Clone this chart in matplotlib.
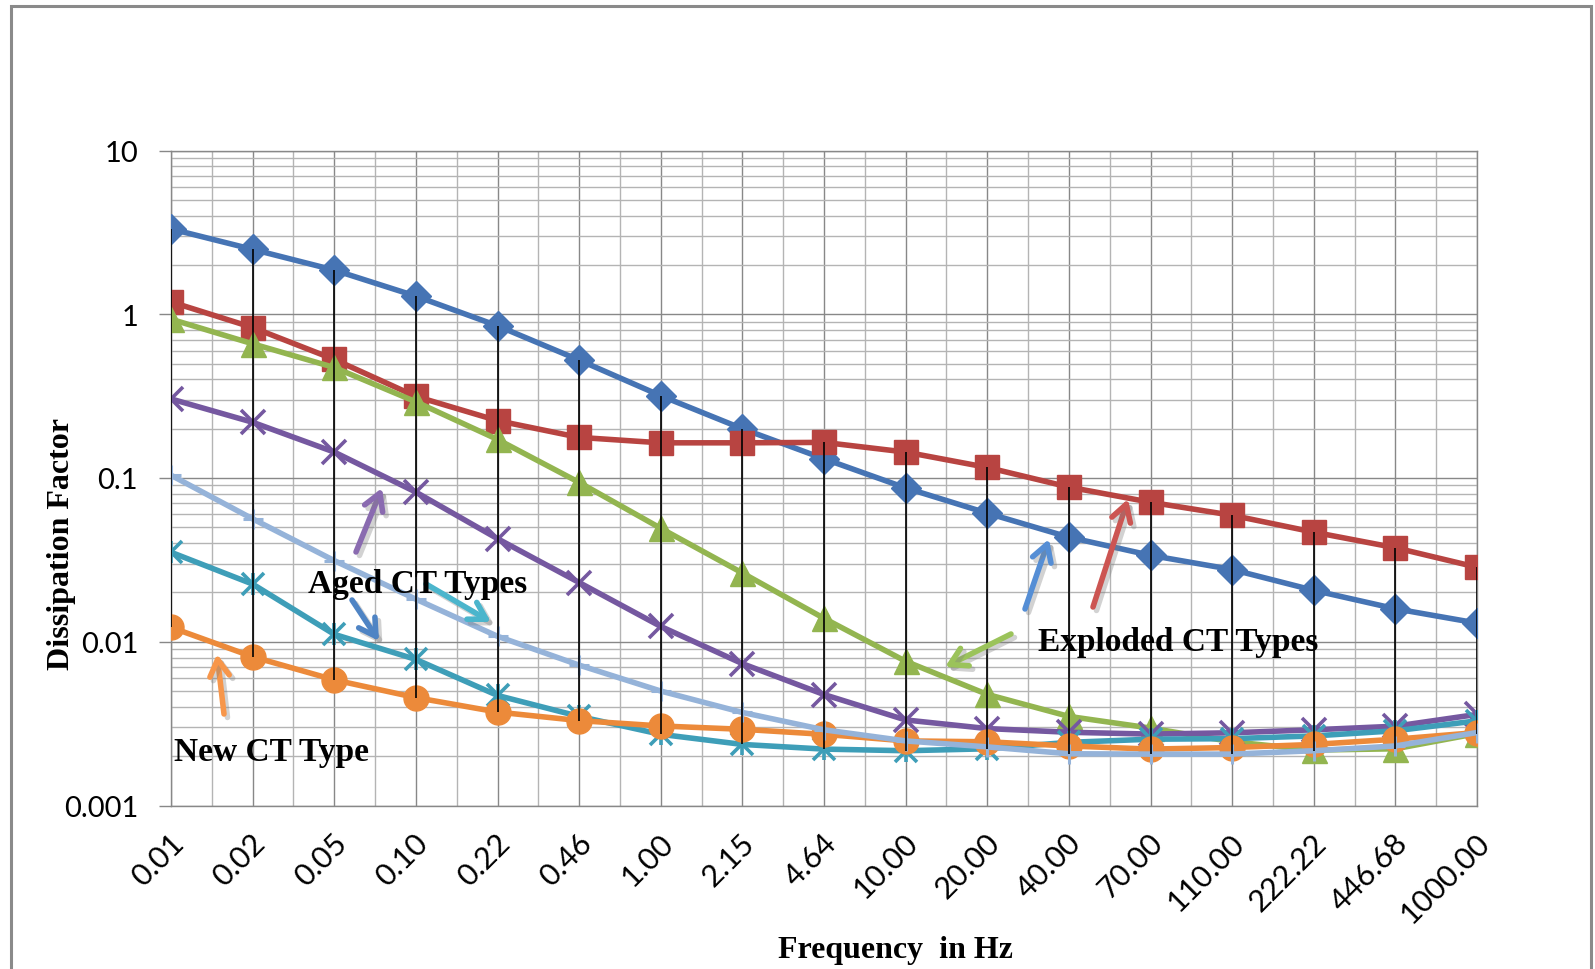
import matplotlib
matplotlib.use("Agg")
import matplotlib.pyplot as plt
import matplotlib.patheffects as pe
from matplotlib.patches import Rectangle
from matplotlib.ticker import LogLocator, NullFormatter
from matplotlib.transforms import ScaledTranslation
import numpy as np

# frequency categories (Hz)
freq_labels = ["0.01", "0.02", "0.05", "0.10", "0.22", "0.46", "1.00", "2.15", "4.64",
               "10.00", "20.00", "40.00", "70.00", "110.00", "222.22", "446.68", "1000.00"]

# dissipation factor per CT
exploded_1 = [3.32, 2.49, 1.86, 1.29, 0.85, 0.525, 0.318, 0.200, 0.131, 0.087, 0.061,
              0.0435, 0.0337, 0.0276, 0.0206, 0.0159, 0.0130]
exploded_2 = [1.19, 0.83, 0.53, 0.315, 0.224, 0.177, 0.164, 0.164, 0.165, 0.144, 0.116,
              0.088, 0.0711, 0.0592, 0.0467, 0.0375, 0.0285]
exploded_3 = [0.933, 0.66, 0.473, 0.292, 0.172, 0.094, 0.0493, 0.0263, 0.0139, 0.0076, 0.00477,
              0.00350, 0.00297, 0.00245, 0.00218, 0.00222, 0.00275]
aged_1 = [0.304, 0.219, 0.144, 0.082, 0.0426, 0.023, 0.0124, 0.00735, 0.00476, 0.00333, 0.00295,
          0.0028, 0.00273, 0.00278, 0.0029, 0.00305, 0.0036]
aged_2 = [0.0352, 0.0225, 0.0111, 0.0078, 0.0047, 0.0035, 0.00272, 0.00236, 0.00221, 0.00216, 0.00222,
          0.00243, 0.00254, 0.00256, 0.00266, 0.00286, 0.00329]
new_ct = [0.01225, 0.0081, 0.00585, 0.00456, 0.00372, 0.0033, 0.00306, 0.00292, 0.00272, 0.00248, 0.00245,
          0.00231, 0.00221, 0.00226, 0.00236, 0.00254, 0.00279]
aged_3 = [0.104, 0.0563, 0.0313, 0.0182, 0.0108, 0.0072, 0.0050, 0.0037, 0.0029, 0.00248, 0.00228,
          0.00207, 0.00206, 0.00206, 0.00216, 0.00231, 0.00279]

ytick_vals = [0.001, 0.01, 0.1, 1, 10]
ytick_labels = ["0.001", "0.01", "0.1", "1", "10"]

W, H = 1595, 970
SANS = ["Lato", "DejaVu Sans"]
SERIF = ["Liberation Serif", "DejaVu Serif"]

fig = plt.figure(figsize=(W / 100, H / 100), dpi=100)
ax = fig.add_axes([171 / W, 1 - 806.5 / H, (1477 - 171) / W, (806.5 - 151.5) / H])

x = np.arange(len(freq_labels))
ax.set_yscale("log")
ax.set_ylim(0.001, 10)
ax.set_xlim(0, len(freq_labels) - 1)

# grid like Excel
ax.set_xticks(x)
ax.set_xticks(x[:-1] + 0.5, minor=True)
ax.set_yticks(ytick_vals, ytick_labels)
ax.yaxis.set_minor_locator(LogLocator(base=10, subs=np.arange(2, 10)))
ax.yaxis.set_minor_formatter(NullFormatter())
ax.grid(which="major", color="#888888", lw=1.0)
ax.grid(which="minor", color="#b4b4b4", lw=1.0)
ax.set_axisbelow(True)
for s in ax.spines.values():
    s.set_color("#888888")
    s.set_linewidth(1.0)

ax.tick_params(axis="y", which="major", direction="out", length=8.6, width=1.0,
               color="#888888", pad=15, labelsize=21)
ax.tick_params(axis="y", which="minor", length=0)
ax.tick_params(axis="x", which="both", length=0, pad=16, labelsize=22)
for lab in ax.get_yticklabels():
    lab.set_family(SANS)
ax.set_xticklabels(freq_labels, rotation=45, ha="right", va="top",
                   rotation_mode="anchor", family=SANS)
off = ScaledTranslation(-2 / 100, 0, fig.dpi_scale_trans)
for lab in ax.get_xticklabels():
    lab.set_transform(lab.get_transform() + off)

# series
lw = 4.0
ax.plot(x, exploded_1, color="#4674B4", lw=lw, marker="D", ms=15, zorder=3)
ax.plot(x, exploded_2, color="#B84441", lw=lw, marker="s", ms=17, zorder=4)
ax.plot(x, exploded_3, color="#93B550", lw=lw, marker="^", ms=18, zorder=5)
ax.plot(x, aged_1, color="#7558A0", lw=lw, marker="x", ms=17, mew=2.6, zorder=6)
ax.plot(x, aged_2, color="#3E9EB8", lw=lw, marker="x", ms=16, mew=2.6, zorder=7)
ax.plot(x, aged_2, color="#3E9EB8", ls="none", marker="|", ms=16, mew=2.6, zorder=7)
ax.plot(x, new_ct, color="#EC8A3A", lw=lw, marker="o", ms=18, zorder=8)
ax.plot(x, aged_3, color="#95B3D9", lw=lw, marker="+", ms=15, mew=2.2, zorder=9)

# high-low lines
allv = np.vstack([exploded_1, exploded_2, exploded_3, aged_1, aged_2, new_ct, aged_3])
ax.vlines(x, allv.min(axis=0), allv.max(axis=0), color="black", lw=1.2, zorder=10)


def fp(px, py):
    return (px, H - py)


shadow = [pe.SimpleLineShadow(offset=(2.5, -2.5), shadow_color="gray", alpha=0.35), pe.Normal()]
arrows = [
    ((356, 553), (382, 489), "#8A6BB0"),
    ((352, 601), (379, 642), "#4F84C4"),
    ((426, 585), (491, 623), "#4BB5CC"),
    ((224, 715), (217, 655), "#F7964A"),
    ((1011, 635), (945, 668), "#9BC35A"),
    ((1025, 610), (1049, 540), "#558ED5"),
    ((1093, 608), (1128, 500), "#CC5552"),
]
for tail, head, col in arrows:
    ax.annotate("", xy=fp(*head), xycoords="figure pixels", xytext=fp(*tail),
                textcoords="figure pixels",
                arrowprops=dict(arrowstyle="->, head_length=0.6, head_width=0.35",
                                color=col, lw=4, mutation_scale=20, shrinkA=0, shrinkB=0,
                                path_effects=shadow),
                zorder=12)

for txt, (px, py) in [("Aged CT Types", (418, 585)), ("New CT Type", (271, 752)),
                      ("Exploded CT Types", (1178, 643))]:
    fig.text(px / W, 1 - py / H, txt, family=SERIF, weight="bold", fontsize=24,
             ha="center", va="center", zorder=13)

fig.text(62 / W, 1 - 544 / H, "Dissipation Factor", family=SERIF, weight="bold",
         fontsize=23, rotation=90, ha="center", va="center")
fig.text(895 / W, 1 - 951 / H, "Frequency  in Hz", family=SERIF, weight="bold",
         fontsize=23, ha="center", va="center")

# chart area border
fig.patches.append(Rectangle((11 / W, -0.1), (1591 - 11) / W, 1.1 - 7 / H,
                             transform=fig.transFigure, fill=False,
                             edgecolor="#8a8a8a", lw=2.2))

fig.savefig("out.png", dpi=100)
